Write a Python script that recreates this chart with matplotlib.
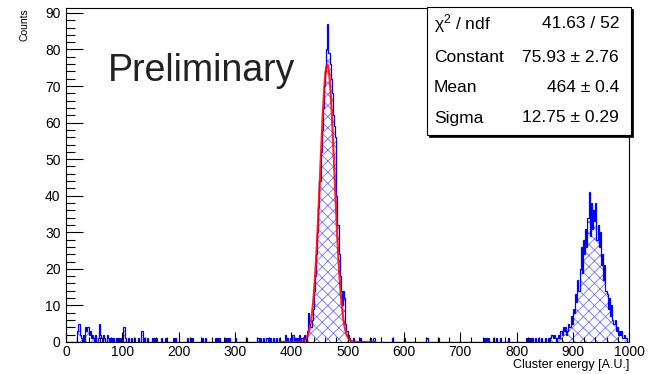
import numpy as np
import matplotlib
matplotlib.use("Agg")
import matplotlib.pyplot as plt
from matplotlib.patches import Rectangle

plt.rcParams['font.family'] = ['Liberation Sans', 'DejaVu Sans']
plt.rcParams['mathtext.fontset'] = 'custom'
plt.rcParams['mathtext.rm'] = 'Liberation Sans'
plt.rcParams['mathtext.it'] = 'Liberation Sans'
plt.rcParams['hatch.linewidth'] = 0.6

# histogram: 500 bins of width 2 between 0 and 1000
bin_width = 2
x_min, x_max = 0, 1000

# first peak, consecutive bins starting at left edge 428
peak1_start = 428
peak1_counts = [3, 8, 5, 4, 6, 9, 14, 18, 24, 30, 37, 44, 52, 58, 64, 70, 74, 80, 87, 79,
                76, 72, 68, 62, 59, 56, 40, 32, 24, 18, 14, 10, 14, 12, 5, 3, 2, 1]

# second peak, consecutive bins starting at left edge 850
peak2_start = 850
peak2_counts = [1, 0, 0, 1, 0, 1, 2, 1, 2, 1, 0, 1, 2, 1, 3, 2, 4, 3, 4, 2,
                3, 5, 4, 7, 5, 9, 8, 13, 11, 17, 14, 20, 26, 19, 28, 24, 31, 26, 34, 41,
                29, 38, 31, 36, 33, 38, 28, 32, 26, 30, 21, 24, 17, 21, 14, 13, 9, 12, 7, 10,
                6, 5, 6, 3, 4, 2, 3, 2, 3, 1, 2, 1, 1]

# scattered background bins (bin centre, counts)
bkg_centres = [21, 23, 25, 27, 31, 35, 37, 39, 41, 43, 45, 47, 49, 53, 57, 59, 61, 63, 67, 69,
               73, 75, 79, 81, 85, 89, 93, 97, 103, 105, 111, 117, 121, 129, 135, 139, 145, 153, 157, 161,
               169, 177, 191, 195, 215, 221, 225, 243, 247, 265, 269, 273, 283, 287, 291, 301, 321, 341, 345, 351,
               357, 363, 369, 373, 379, 389, 393, 399, 403, 407, 411, 415, 419, 423, 425,
               511, 523, 541, 547, 579, 601, 641, 661, 743, 747, 751, 759, 765, 771, 785, 817, 821, 825,
               829, 833, 839, 845]
bkg_counts = [3, 5, 2, 1, 2, 4, 3, 4, 2, 3, 1, 2, 1, 2, 1, 5, 2, 1, 2, 1,
              2, 1, 1, 1, 1, 1, 1, 1, 4, 1, 1, 1, 1, 1, 3, 1, 1, 1, 1, 1,
              1, 1, 1, 1, 1, 1, 1, 1, 1, 1, 1, 1, 1, 1, 1, 1, 1, 1, 1, 1,
              1, 1, 1, 1, 1, 2, 1, 1, 2, 1, 1, 2, 1, 2, 1,
              1, 1, 1, 1, 1, 1, 1, 1, 1, 1, 1, 1, 1, 1, 1, 1, 1, 1,
              1, 1, 1, 1]

# gaussian fit result (stat box)
fit_const, fit_const_err = 75.93, 2.76
fit_mean, fit_mean_err = 464, 0.4
fit_sigma, fit_sigma_err = 12.75, 0.29
chi2, ndf = 41.63, 52
fit_range = (380, 548)

# build full bin array
edges = np.arange(x_min, x_max + bin_width, bin_width)
counts = np.zeros(len(edges) - 1)
for c, n in zip(bkg_centres, bkg_counts):
    counts[int(c // bin_width)] += n
i0 = peak1_start // bin_width
counts[i0:i0 + len(peak1_counts)] = peak1_counts
i0 = peak2_start // bin_width
counts[i0:i0 + len(peak2_counts)] = peak2_counts

fig = plt.figure(figsize=(6.48, 3.74), dpi=100)
ax = fig.add_axes([0.1019, 0.0856, 0.869, 0.893])

# hatched fill + blue outline (ROOT style)
ax.stairs(counts, edges, fill=True, facecolor='none', edgecolor=(0.45, 0.45, 1.0),
          hatch='xxx', linewidth=0)
ax.stairs(counts, edges, color='#0000ff', linewidth=0.9)

# fit curve
xf = np.linspace(fit_range[0], fit_range[1], 600)
yf = fit_const * np.exp(-0.5 * ((xf - fit_mean) / fit_sigma) ** 2)
ax.plot(xf, yf, color='#ff0000', linewidth=1.6, alpha=0.85)

ax.set_xlim(x_min, x_max)
ax.set_ylim(0, max(counts) * 1.05)
ax.set_xticks(np.arange(0, 1001, 100))
ax.set_xticks(np.arange(0, 1001, 20), minor=True)
ax.set_yticks(np.arange(0, 91, 10))
ax.set_yticks(np.arange(0, 91, 2), minor=True)
ax.tick_params(axis='both', which='both', direction='in', top=False, right=False,
               labelsize=10, width=0.8)
ax.tick_params(axis='x', which='major', length=7.2, pad=2.5)
ax.tick_params(axis='x', which='minor', length=3.6)
ax.tick_params(axis='y', which='major', length=12, pad=4)
ax.tick_params(axis='y', which='minor', length=6.5)
for s in ax.spines.values():
    s.set_linewidth(0.8)

ax.set_xlabel('Cluster energy [A.U.]', fontsize=9)
ax.xaxis.set_label_coords(1.0, -0.052)
ax.xaxis.label.set_horizontalalignment('right')
ax.set_ylabel('Counts', fontsize=7.5)
ax.yaxis.set_label_coords(-0.064, 1.0)
ax.yaxis.label.set_horizontalalignment('right')

ax.text(0.075, 0.81, 'Preliminary', transform=ax.transAxes, fontsize=27,
        color='#222222', ha='left', va='center')

# stat box
bx0, bx1 = 427 / 648, 631 / 648
by0, by1 = 1 - 135 / 374, 1 - 7 / 374
fig.patches.append(Rectangle((bx0 + 2 / 648, by0 - 2 / 374), bx1 - bx0, by1 - by0,
                             transform=fig.transFigure, facecolor='black', edgecolor='black',
                             linewidth=0.5, zorder=5))
fig.patches.append(Rectangle((bx0, by0), bx1 - bx0, by1 - by0, transform=fig.transFigure,
                             facecolor='white', edgecolor='black', linewidth=0.8, zorder=6))
rows = [('χ$^{2}$ / ndf', f'{chi2:.2f} / {ndf}'),
        ('Constant', f'{fit_const:.2f} ± {fit_const_err:.2f}'),
        ('Mean', f'{fit_mean} ± {fit_mean_err}'),
        ('Sigma', f'{fit_sigma:.2f} ± {fit_sigma_err:.2f}')]
row_y = [24, 57, 88, 118]
for (lab, val), yp in zip(rows, row_y):
    fig.text(434 / 648, 1 - yp / 374, lab, fontsize=12.5, ha='left', va='center', zorder=7)
    fig.text(619 / 648, 1 - yp / 374, val, fontsize=12.5, ha='right', va='center', zorder=7)

fig.savefig('out.png', dpi=100)
